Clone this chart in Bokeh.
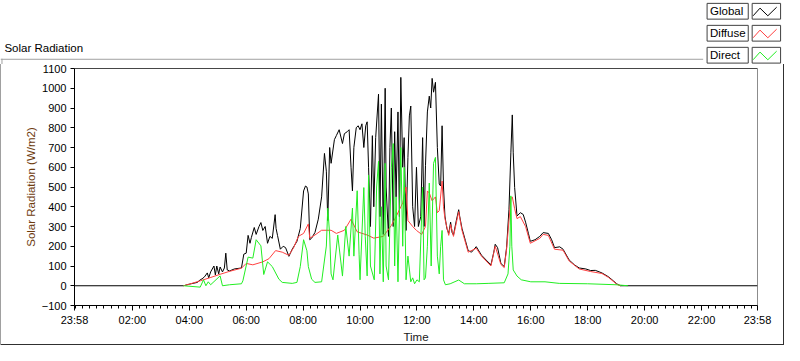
from bokeh.plotting import figure
from bokeh.layouts import column
from bokeh.models import Range1d, FixedTicker, Span
from bokeh.core.properties import value
from bokeh.embed import file_html
from bokeh.resources import INLINE

# ---------------- data ----------------
x_tick_labels = ["23:58", "02:00", "04:00", "06:00", "08:00", "10:00", "12:00",
                 "14:00", "16:00", "18:00", "20:00", "22:00", "23:58"]
y_ticks = [-100, 0, 100, 200, 300, 400, 500, 600, 700, 800, 900, 1000, 1100]
legend_names = ["Global", "Diffuse", "Direct"]

global_time = ["23:58", "03:48", "04:00", "04:17", "04:23", "04:27", "04:32", "04:38", "04:41", "04:45",
               "04:52", "04:55", "04:58", "05:02", "05:05", "05:10", "05:14", "05:17", "05:20", "05:25",
               "05:35", "05:50", "05:55", "06:00", "06:04", "06:08", "06:11", "06:17", "06:21", "06:27",
               "06:31", "06:35", "06:40", "06:45", "06:50", "06:55", "07:01", "07:03", "07:06", "07:12",
               "07:18", "07:23", "07:30", "07:37", "07:47", "07:54", "08:01", "08:05", "08:08", "08:11",
               "08:14", "08:18", "08:25", "08:32", "08:39", "08:45", "08:49", "08:52", "08:56", "08:59",
               "09:06", "09:10", "09:16", "09:23", "09:27", "09:33", "09:37", "09:41", "09:44", "09:47",
               "09:52", "09:56", "10:00", "10:04", "10:08", "10:12", "10:15", "10:18", "10:22", "10:26",
               "10:29", "10:33", "10:39", "10:42", "10:45", "10:49", "10:53", "10:55", "11:00", "11:03",
               "11:06", "11:10", "11:13", "11:16", "11:20", "11:23", "11:26", "11:30", "11:33", "11:37",
               "11:41", "11:44", "11:47", "11:51", "11:55", "11:59", "12:03", "12:08", "12:12", "12:15",
               "12:18", "12:22", "12:26", "12:29", "12:32", "12:35", "12:39", "12:43", "12:47", "12:50",
               "12:53", "12:56", "12:59", "13:03", "13:07", "13:11", "13:14", "13:17", "13:23", "13:28",
               "13:30", "13:35", "13:42", "13:48", "13:55", "14:05", "14:16", "14:26", "14:36", "14:42",
               "14:45", "14:50", "14:57", "15:04", "15:09", "15:14", "15:18", "15:21", "15:23", "15:26",
               "15:31", "15:38", "15:44", "15:49", "15:55", "15:59", "16:09", "16:19", "16:26", "16:37",
               "16:44", "16:50", "17:01", "17:08", "17:21", "17:32", "17:42", "17:56", "18:06", "18:16",
               "18:30", "18:44", "18:54", "19:01", "19:09", "23:58"]
global_value = [0, 0, 8, 17, 30, 35, 45, 65, 40, 70,
                100, 55, 100, 60, 95, 70, 90, 165, 80, 75,
                85, 90, 160, 165, 255, 215, 245, 295, 260, 300,
                320, 280, 300, 215, 250, 240, 360, 290, 255, 185,
                200, 193, 149, 185, 225, 290, 480, 505, 500, 465,
                233, 241, 270, 337, 450, 670, 580, 330, 700, 620,
                740, 760, 790, 720, 770, 780, 790, 600, 480, 700,
                800, 810, 790, 820, 700, 810, 830, 600, 300, 760,
                400, 750, 970, 350, 920, 260, 1000, 500, 250, 700,
                900, 300, 780, 450, 880, 350, 1055, 600, 750, 280,
                650, 860, 910, 400, 300, 600, 300, 350, 750, 300,
                610, 880, 960, 900, 1050, 980, 1030, 700, 515, 505,
                810, 500, 353, 290, 265, 322, 270, 257, 330, 385,
                353, 290, 230, 178, 170, 198, 155, 130, 106, 170,
                210, 193, 113, 97, 193, 385, 673, 865, 673, 497,
                353, 370, 361, 322, 265, 225, 233, 250, 269, 265,
                233, 193, 197, 185, 130, 106, 90, 85, 77, 78,
                65, 45, 25, 10, 0, 0]

diffuse_time = ["03:48", "04:00", "04:23", "04:44", "05:05", "05:25", "05:50", "06:00", "06:14", "06:35",
                "06:48", "07:02", "07:16", "07:30", "07:40", "07:50", "08:01", "08:11", "08:14", "08:25",
                "08:39", "08:59", "09:10", "09:27", "09:41", "09:54", "10:15", "10:29", "10:49", "11:06",
                "11:16", "11:26", "11:30", "11:37", "11:41", "11:51", "11:59", "12:10", "12:18", "12:22",
                "12:26", "12:32", "12:39", "12:43", "12:47", "12:53", "12:56", "12:59", "13:07", "13:11",
                "13:17", "13:28", "13:35", "13:48", "14:05", "14:16", "14:36", "14:45", "14:57", "15:04",
                "15:09", "15:14", "15:18", "15:21", "15:26", "15:31", "15:38", "15:49", "15:59", "16:19",
                "16:26", "16:37", "16:50", "17:08", "17:21", "17:42", "18:06", "18:30", "18:44", "19:01",
                "19:09"]
diffuse_value = [0, 8, 25, 41, 58, 73, 89, 113, 106, 121,
                 137, 178, 170, 154, 193, 250, 265, 313, 241, 257,
                 281, 281, 265, 281, 337, 273, 257, 241, 250, 305,
                 350, 400, 420, 500, 330, 300, 280, 260, 300, 480,
                 470, 430, 450, 370, 380, 530, 400, 340, 255, 310,
                 250, 375, 280, 170, 190, 150, 100, 200, 108, 92,
                 185, 330, 440, 450, 390, 340, 350, 300, 215, 240,
                 260, 255, 185, 180, 125, 85, 72, 62, 42, 8,
                 0]

direct_time = ["03:48", "04:23", "04:30", "04:35", "04:40", "04:45", "05:05", "05:10", "05:25", "05:50",
               "05:53", "06:04", "06:14", "06:21", "06:31", "06:37", "06:45", "06:55", "07:09", "07:16",
               "07:37", "07:47", "07:54", "08:01", "08:08", "08:11", "08:18", "08:25", "08:39", "08:49",
               "08:52", "08:56", "08:59", "09:03", "09:13", "09:23", "09:30", "09:37", "09:44", "09:47",
               "09:54", "09:58", "10:00", "10:08", "10:11", "10:15", "10:18", "10:22", "10:30", "10:35",
               "10:39", "10:42", "10:45", "10:49", "10:53", "10:55", "11:00", "11:06", "11:10", "11:13",
               "11:16", "11:20", "11:26", "11:30", "11:33", "11:37", "11:41", "11:47", "11:51", "11:55",
               "12:00", "12:05", "12:12", "12:15", "12:18", "12:22", "12:26", "12:30", "12:35", "12:39",
               "12:43", "12:47", "12:50", "12:53", "12:56", "13:00", "13:10", "13:28", "13:40", "14:05",
               "14:30", "15:04", "15:12", "15:16", "15:18", "15:20", "15:23", "15:31", "15:40", "16:00",
               "16:30", "17:00", "18:00", "19:00", "19:25"]
direct_value = [0, -7, 30, 0, 20, 5, 50, 0, 5, 10,
                25, 145, 140, 233, 202, 57, 121, 97, 33, 17,
                12, 17, 97, 233, 177, 97, 33, 17, 20, 201,
                393, 257, 60, 30, 257, 49, 300, 150, 393, 150,
                481, 160, 30, 497, 250, 50, 560, 100, 30, 500,
                630, 60, 400, 20, 620, 100, 30, 600, 720, 100,
                450, 20, 700, 200, 600, 30, 150, 20, 40, 10,
                30, 20, 500, 30, 40, 200, 520, 100, 620, 650,
                150, 60, 200, 280, 30, 5, 10, 29, 10, 10,
                12, 15, 60, 200, 455, 200, 80, 49, 30, 20,
                20, 12, 10, 5, 0]


def to_minutes(labels):
    out = []
    for i, s in enumerate(labels):
        h, m = s.split(":")
        v = int(h) * 60 + int(m)
        if s == "23:58":
            v = -2 if i == 0 else 1438
        out.append(v)
    return out


x_tick_pos = to_minutes(x_tick_labels)

FONT = "Liberation Sans"
COLORS = ["black", "#ff4040", "#22ee22"]

# ---------------- layout ----------------
W, H = 784, 345
SY = H / 361.0
HDR_H = 64
MAIN_H = H - HDR_H

# header strip: title + legend (drawn in reference-pixel coordinates, y downward)
hdr = figure(width=W, height=HDR_H, output_backend="svg", toolbar_location=None,
             x_range=Range1d(0, 800), y_range=Range1d(HDR_H / SY, 0),
             x_axis_type=None, y_axis_type=None, min_border=0,
             outline_line_color=None, background_fill_color="white", border_fill_color="white")

hdr.text(x=[4], y=[50], text=["Solar Radiation"], text_font=value(FONT),
         text_font_size=value("11.5px"), text_color="black", text_baseline="middle", text_align="left")
hdr.segment(x0=[0, 1.5], y0=[61.5, 61], x1=[717, 1.5], y1=[61.5, HDR_H / SY],
            line_color="#a0a0a0", line_width=1)

row_tops = [3, 26, 49]
hdr.quad(left=[721] * 3, right=[763] * 3, top=row_tops, bottom=[t + 16.5 for t in row_tops],
         fill_color="white", line_color="#404040", line_width=1)
hdr.quad(left=[767] * 3, right=[796] * 3, top=row_tops, bottom=[t + 16.5 for t in row_tops],
         fill_color="white", line_color="#404040", line_width=1)
hdr.text(x=[724] * 3, y=[t + 8.5 for t in row_tops], text=legend_names, text_font=value(FONT),
         text_font_size=value("11.5px"), text_color="black", text_baseline="middle", text_align="left")
hdr.multi_line(xs=[[768, 775, 783, 792]] * 3,
               ys=[[t + 13, t + 5, t + 13, t + 4] for t in row_tops],
               line_color=COLORS, line_width=1)

# main chart
p = figure(width=W, height=MAIN_H, output_backend="svg", toolbar_location=None,
           x_range=Range1d(-2, 1438), y_range=Range1d(-100, 1100),
           min_border_left=74, min_border_right=27, min_border_top=4, min_border_bottom=37,
           background_fill_color="white", border_fill_color=None)
p.styles = {"box-shadow": "inset 1px 0 0 #a0a0a0, inset -1px -1px 0 #303030"}
p.xgrid.visible = False
p.ygrid.visible = False
p.outline_line_color = "#8c8c8c"

for fig in (hdr, p):
    if "frame_align" in fig.properties():
        fig.frame_align = False

p.xaxis.ticker = FixedTicker(ticks=x_tick_pos, minor_ticks=list(range(0, 1440, 15)))
p.xaxis.major_label_overrides = {pos: lab for pos, lab in zip(x_tick_pos, x_tick_labels)}
p.yaxis.ticker = FixedTicker(ticks=y_ticks, minor_ticks=[])

for ax in (p.xaxis[0], p.yaxis[0]):
    ax.axis_line_color = "black"
    ax.major_tick_line_color = "black"
    ax.major_tick_in = 0
    ax.minor_tick_in = 0
    ax.major_label_text_font = FONT
    ax.major_label_text_font_size = "11px"
    ax.major_label_text_color = "black"
    ax.axis_label_text_font = FONT
    ax.axis_label_text_font_size = "11.5px"
    ax.axis_label_text_font_style = "normal"

p.xaxis.major_tick_out = 5
p.xaxis.minor_tick_out = 3
p.xaxis.minor_tick_line_color = "black"
p.xaxis.major_label_standoff = 3
p.xaxis.axis_label = "Time"
p.xaxis.axis_label_text_color = "#1a1a1a"
p.xaxis.axis_label_standoff = 2

p.yaxis.major_tick_out = 4
p.yaxis.minor_tick_line_color = None
p.yaxis.major_label_standoff = 4
p.yaxis.axis_label = "Solar Radiation (W/m2)"
p.yaxis.axis_label_text_color = "#6e3b0e"
p.yaxis.axis_label_standoff = 2

p.add_layout(Span(location=1100, dimension="width", line_color="black", line_width=1))

p.line(to_minutes(global_time), global_value, line_color=COLORS[0], line_width=1)
p.line(to_minutes(diffuse_time), diffuse_value, line_color=COLORS[1], line_width=1)
p.line(to_minutes(direct_time), direct_value, line_color=COLORS[2], line_width=1)

layout = column(hdr, p, spacing=0)
open("out.html", "w").write(file_html(layout, INLINE))
